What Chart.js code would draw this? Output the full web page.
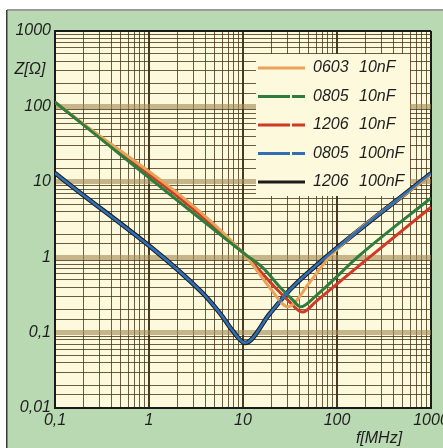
<!DOCTYPE html>
<html>
<head>
<meta charset="utf-8">
<style>
  html, body { margin: 0; padding: 0; background: #fff; }
  #wrap { position: relative; width: 443px; height: 448px; }
</style>
<script src="https://cdn.jsdelivr.net/npm/chart.js@4/dist/chart.umd.min.js"></script>
</head>
<body>
<div id="wrap"><canvas id="chart" width="443" height="448"></canvas></div>
<script>
// values (f in MHz, Z in ohm)
const F_0603_10N = [0.1, 10, 19.4, 30, 51.6, 84, 1000];
const Z_0603_10N = [114, 1.15, 0.39, 0.22, 0.47, 1.02, 12.5];

const F_0805_10N = [0.1, 11, 16.3, 24.8, 34, 41, 60, 176, 1000];
const Z_0805_10N = [114, 1.05, 0.72, 0.40, 0.27, 0.22, 0.31, 1.07, 6.1];

const F_1206_10N = [0.1, 10, 20, 30, 43, 60, 176, 1000];
const Z_1206_10N = [114, 1.15, 0.45, 0.27, 0.187, 0.26, 0.79, 4.6];

const F_0805_100N = [0.1, 3.5, 5.7, 7.8, 10.5, 19.4, 31.6, 66, 1000];
const Z_0805_100N = [13.1, 0.36, 0.18, 0.105, 0.073, 0.18, 0.37, 0.86, 13];

const F_1206_100N = [0.1, 3.5, 5.7, 7.8, 10.5, 19.4, 31.6, 66, 1000];
const Z_1206_100N = [13.1, 0.36, 0.18, 0.105, 0.073, 0.18, 0.37, 0.86, 13];

const LEG_SIZE = ["0603", "0805", "1206", "0805", "1206"];
const LEG_CAP = ["10nF", "10nF", "10nF", "100nF", "100nF"];
const COLORS = ["#e9a257", "#2f7d3c", "#cf3a24", "#2f6fb6", "#1b1b1b"];

const X_TICK_LABELS = ["0,1", "1", "10", "100", "1000"];
const Y_TICK_LABELS = ["0,01", "0,1", "1", "10", "100", "1000"];
const X_GRID_STEPS = [1, 2, 3, 4, 5, 6, 7, 8, 9];
const Y_GRID_STEPS = [1, 1.5, 2, 3, 4, 5, 6, 7, 8, 9];

const FONT = { family: '"Liberation Sans", Arial, sans-serif', size: 16, style: "italic" };
const TEXT = "#1e1e1e";

function pts(fs, zs) { return fs.map((f, i) => ({ x: f, y: zs[i] })); }

function gridTicks(min, max, steps) {
  const out = [];
  for (let e = Math.round(Math.log10(min)); e < Math.round(Math.log10(max)); e++)
    steps.forEach(m => out.push(m * Math.pow(10, e)));
  out.push(max);
  return out.map(v => ({ value: v }));
}

function isDecade(v) {
  const l = Math.log10(v);
  return Math.abs(l - Math.round(l)) < 1e-9;
}

function tickLabel(v, min, labels) {
  if (!isDecade(v)) return "";
  return labels[Math.round(Math.log10(v) - Math.log10(min))] || "";
}

function gridStyle(v, min, max, horiz) {
  if (Math.abs(v - min) < 1e-12 || Math.abs(v - max) < 1e-9) return { c: "#1a1a1a", w: 2 };
  if (isDecade(v)) return horiz ? { c: "rgba(160,135,80,0.6)", w: 5 } : { c: "rgba(50,38,15,0.9)", w: 2 };
  return { c: "rgba(65,48,20,0.78)", w: 1 };
}

const bgPlugin = {
  id: "bg",
  beforeDraw(chart) {
    const ctx = chart.ctx, a = chart.chartArea;
    ctx.save();
    ctx.fillStyle = "#ffffff";
    ctx.fillRect(0, 0, chart.width, chart.height);
    ctx.fillStyle = "#b9d9b3";
    ctx.fillRect(7, 10, chart.width - 7, chart.height - 10);
    ctx.fillStyle = "#9a9a9a";
    ctx.fillRect(7, 9, chart.width - 7, 2);
    ctx.fillStyle = "#3a3a3a";
    ctx.fillRect(6, 10, 1.5, chart.height - 10);
    ctx.fillStyle = "#fdf9dc";
    ctx.fillRect(a.left, a.top, a.right - a.left, a.bottom - a.top);
    ctx.restore();
  },
  beforeDatasetsDraw(chart) {
    // legend panel hides the grid
    const ctx = chart.ctx;
    ctx.save();
    ctx.fillStyle = "#fdf9dc";
    ctx.fillRect(256, 54, 154, 142);
    ctx.restore();
  },
  afterDatasetsDraw(chart) {
    const ctx = chart.ctx;
    ctx.save();
    ctx.font = "italic 16px " + FONT.family;
    ctx.textBaseline = "middle";
    LEG_SIZE.forEach((s, i) => {
      const y = 68 + i * 28.5;
      ctx.strokeStyle = COLORS[i];
      ctx.lineWidth = 3;
      ctx.beginPath();
      if (i === 0 || i === 4) {
        ctx.moveTo(258, y); ctx.lineTo(305, y);
      } else {
        ctx.moveTo(258, y); ctx.lineTo(290, y);
        ctx.moveTo(292, y); ctx.lineTo(305, y);
      }
      ctx.stroke();
      ctx.fillStyle = TEXT;
      ctx.textAlign = "left";
      ctx.fillText(s, 313, y);
      ctx.fillText(LEG_CAP[i], 359, y);
    });
    ctx.textAlign = "center";
    ctx.fillText("Z[Ω]", 30, 70);
    ctx.fillText("f[MHz]", 379, 439);
    ctx.restore();
  }
};

function ds(label, fs, zs, i, width, order) {
  return {
    label: label, data: pts(fs, zs), borderColor: COLORS[i], borderWidth: width,
    pointRadius: 0, cubicInterpolationMode: "monotone", fill: false, order: order
  };
}

new Chart(document.getElementById("chart"), {
  type: "line",
  data: {
    datasets: [
      ds("0603 10nF", F_0603_10N, Z_0603_10N, 0, 3, 2),
      ds("0805 10nF", F_0805_10N, Z_0805_10N, 1, 3, 1),
      ds("1206 10nF", F_1206_10N, Z_1206_10N, 2, 3, 3),
      ds("0805 100nF", F_0805_100N, Z_0805_100N, 3, 2.6, 0),
      ds("1206 100nF", F_1206_100N, Z_1206_100N, 4, 4.6, 4)
    ]
  },
  options: {
    responsive: false,
    animation: false,
    layout: { padding: { left: 0, right: 12, top: 31, bottom: 0 } },
    plugins: { legend: { display: false }, tooltip: { enabled: false } },
    scales: {
      x: {
        type: "logarithmic", min: 0.1, max: 1000,
        afterBuildTicks: s => { s.ticks = gridTicks(0.1, 1000, X_GRID_STEPS); },
        afterFit: s => { s.paddingLeft = 0; s.paddingRight = 0; s.height = 40; },
        ticks: {
          autoSkip: false, maxRotation: 0, padding: 3, color: TEXT, font: FONT,
          callback: v => tickLabel(v, 0.1, X_TICK_LABELS)
        },
        grid: {
          drawTicks: false,
          color: c => gridStyle(c.tick.value, 0.1, 1000, false).c,
          lineWidth: c => gridStyle(c.tick.value, 0.1, 1000, false).w
        },
        border: { display: true, color: "#1a1a1a", width: 2 }
      },
      y: {
        type: "logarithmic", min: 0.01, max: 1000,
        afterBuildTicks: s => { s.ticks = gridTicks(0.01, 1000, Y_GRID_STEPS); },
        afterFit: s => { s.width = 55; s.paddingTop = 0; s.paddingBottom = 0; },
        ticks: {
          autoSkip: false, padding: 4, color: TEXT, font: FONT,
          callback: v => tickLabel(v, 0.01, Y_TICK_LABELS)
        },
        grid: {
          drawTicks: false,
          color: c => gridStyle(c.tick.value, 0.01, 1000, true).c,
          lineWidth: c => gridStyle(c.tick.value, 0.01, 1000, true).w
        },
        border: { display: true, color: "#1a1a1a", width: 2 }
      }
    }
  },
  plugins: [bgPlugin]
});
</script>
</body>
</html>
